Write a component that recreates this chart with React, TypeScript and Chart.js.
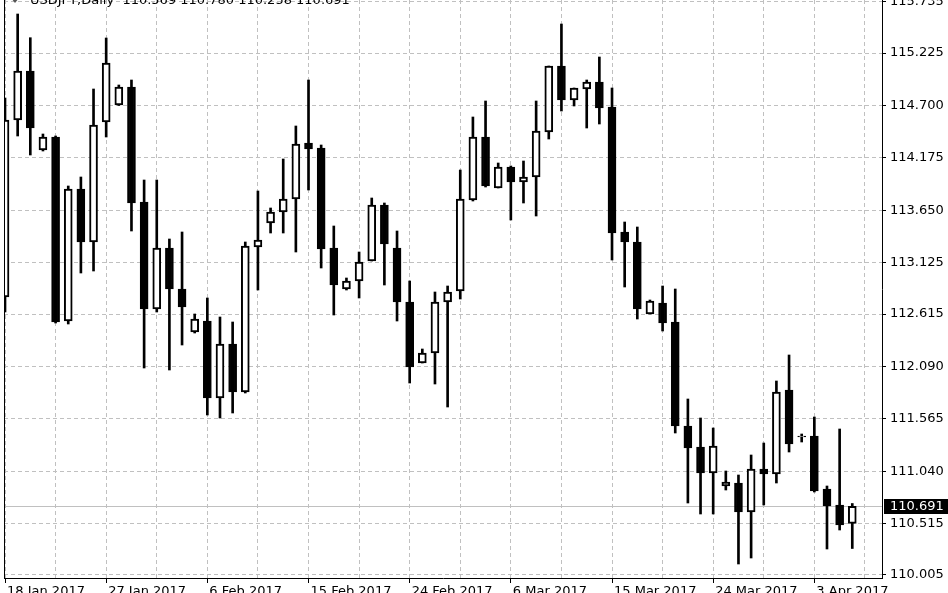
import React, { useEffect, useRef } from 'react';
import { Chart, registerables } from 'chart.js';

Chart.register(...registerables);

const headerText = 'USDJPY,Daily  110.569 110.780 110.258 110.691';

const dateLabels = [
  '18 Jan 2017', '27 Jan 2017', '6 Feb 2017', '15 Feb 2017', '24 Feb 2017',
  '6 Mar 2017', '15 Mar 2017', '24 Mar 2017', '3 Apr 2017',
];

const priceTicks = [
  110.005, 110.515, 111.04, 111.565, 112.09, 112.615, 113.125,
  113.65, 114.175, 114.7, 115.225, 115.735,
];

const opens = [
  112.785, 114.555, 115.045, 114.255, 114.385, 112.545, 113.865, 113.335, 114.535, 114.705,
  114.885, 113.735, 112.665, 113.275, 112.865, 112.435, 112.545, 111.775, 112.315, 111.835,
  113.285, 113.525, 113.635, 113.765, 114.325, 114.275, 113.275, 112.865, 112.945, 113.145,
  113.705, 113.275, 112.735, 112.125, 112.225, 112.735, 112.845, 113.755, 114.385, 113.875,
  114.085, 113.935, 113.985, 114.435, 115.095, 114.755, 114.865, 114.935, 114.685, 113.435,
  113.335, 112.615, 112.725, 112.535, 111.495, 111.285, 111.025, 110.895, 110.925, 110.635,
  111.065, 111.015, 111.855, 111.385, 111.395, 110.865, 110.705, 110.52,
];

const highs = [
  114.775, 115.615, 115.378, 114.415, 114.395, 113.895, 113.985, 114.865, 115.375, 114.905,
  114.955, 113.955, 113.955, 113.365, 113.435, 112.615, 112.775, 112.585, 112.535, 113.335,
  113.845, 113.675, 114.165, 114.495, 114.955, 114.305, 113.495, 112.975, 113.235, 113.775,
  113.725, 113.445, 112.945, 112.265, 112.835, 112.895, 114.055, 114.585, 114.745, 114.125,
  114.095, 114.145, 114.745, 115.095, 115.515, 114.875, 114.955, 115.185, 114.875, 113.535,
  113.485, 112.755, 112.895, 112.865, 111.765, 111.575, 111.475, 111.045, 111.005, 111.205,
  111.325, 111.945, 112.205, 111.415, 111.585, 110.895, 111.465, 110.72,
];

const lows = [
  112.635, 114.395, 114.205, 114.245, 112.525, 112.515, 113.025, 113.045, 114.385, 114.7,
  113.445, 112.075, 112.635, 112.055, 112.305, 112.425, 111.605, 111.575, 111.625, 111.825,
  112.855, 113.425, 113.425, 113.235, 113.855, 113.075, 112.605, 112.855, 112.775, 113.145,
  112.905, 112.545, 111.925, 112.125, 111.915, 111.685, 112.765, 113.745, 113.885, 113.875,
  113.555, 113.725, 113.595, 114.365, 114.645, 114.695, 114.475, 114.515, 113.155, 112.885,
  112.565, 112.615, 112.445, 111.425, 110.725, 110.615, 110.615, 110.855, 110.115, 110.175,
  110.705, 110.925, 111.235, 111.335, 110.835, 110.265, 110.455, 110.27,
];

const closes = [
  114.555, 115.045, 114.475, 114.385, 112.535, 113.865, 113.335, 114.505, 115.125, 114.885,
  113.725, 112.665, 113.275, 112.865, 112.685, 112.565, 111.775, 112.315, 111.835, 113.295,
  113.355, 113.635, 113.765, 114.315, 114.265, 113.265, 112.905, 112.945, 113.135, 113.705,
  113.315, 112.735, 112.085, 112.225, 112.735, 112.835, 113.765, 114.385, 113.895, 114.085,
  113.935, 113.985, 114.445, 115.095, 114.755, 114.875, 114.935, 114.675, 113.425, 113.335,
  112.665, 112.745, 112.525, 111.495, 111.275, 111.025, 111.295, 110.935, 110.635, 111.065,
  111.015, 111.835, 111.315, 111.395, 110.845, 110.695, 110.505, 110.691,
];

const FONT = 'DejaVu Sans';
const GRID = '#c0c0c0';

const overlayPlugin = {
  id: 'mt4overlay',
  beforeDatasetsDraw(chart: any) {
    const { ctx, chartArea, scales } = chart;
    const last = closes[closes.length - 1];
    const y = Math.round(scales.y.getPixelForValue(last)) + 0.5;
    ctx.save();
    ctx.strokeStyle = GRID;
    ctx.lineWidth = 1;
    ctx.beginPath();
    ctx.moveTo(chartArea.left, y);
    ctx.lineTo(chartArea.right, y);
    ctx.stroke();
    ctx.restore();
  },
  afterDraw(chart: any) {
    const { ctx, chartArea, scales, width } = chart;
    ctx.save();
    // left frame line
    ctx.strokeStyle = '#000';
    ctx.lineWidth = 1;
    ctx.beginPath();
    ctx.moveTo(chartArea.left + 0.5, chartArea.top);
    ctx.lineTo(chartArea.left + 0.5, chartArea.bottom);
    ctx.stroke();
    // price tag
    const last = closes[closes.length - 1];
    const y = scales.y.getPixelForValue(last);
    ctx.fillStyle = '#000';
    ctx.fillRect(chartArea.right + 2, Math.round(y) - 7, width - chartArea.right - 2, 15);
    ctx.fillStyle = '#fff';
    ctx.font = `13px "${FONT}"`;
    ctx.textAlign = 'left';
    ctx.textBaseline = 'middle';
    ctx.fillText(last.toFixed(3), chartArea.right + 8, Math.round(y) + 0.5);
    // header
    ctx.fillStyle = '#000';
    ctx.textBaseline = 'alphabetic';
    ctx.fillText(headerText, chartArea.left + 26, chartArea.top + 3.5);
    ctx.fillStyle = '#555';
    ctx.beginPath();
    ctx.moveTo(chartArea.left + 7, chartArea.top - 2);
    ctx.lineTo(chartArea.left + 15, chartArea.top - 2);
    ctx.lineTo(chartArea.left + 11, chartArea.top + 3);
    ctx.closePath();
    ctx.fill();
    ctx.restore();
  },
};

export default function App() {
  const ref = useRef<HTMLCanvasElement | null>(null);

  useEffect(() => {
    document.body.style.margin = '0';
    const canvas = ref.current;
    if (!canvas) return;
    const xTickValues: number[] = [];
    for (let v = 0; v <= 68; v += 4) xTickValues.push(v);

    const chart = new Chart(canvas, {
      type: 'bar',
      data: {
        datasets: [
          {
            label: 'body',
            data: opens.map((o, i) => ({ x: i, y: [o, closes[i]] })) as any,
            backgroundColor: opens.map((o, i) => (closes[i] >= o ? '#ffffff' : '#000000')),
            borderColor: '#000000',
            borderWidth: 2,
            borderSkipped: false,
            barThickness: 8,
            grouped: false,
            order: 0,
          } as any,
          {
            label: 'wick',
            data: highs.map((h, i) => ({ x: i, y: [lows[i], h] })) as any,
            backgroundColor: '#000000',
            borderWidth: 0,
            barThickness: 2,
            grouped: false,
            order: 1,
          } as any,
        ],
      },
      options: {
        animation: false,
        responsive: false,
        devicePixelRatio: 1,
        layout: { padding: { top: 20, left: 4, right: 0, bottom: 0 } },
        plugins: { legend: { display: false }, tooltip: { enabled: false } },
        scales: {
          x: {
            type: 'linear',
            position: 'bottom',
            min: -0.08,
            max: 69.35,
            offset: false,
            bounds: 'data',
            grid: {
              offset: false,
              color: GRID,
              lineWidth: 1,
              tickLength: 5,
              tickColor: (c: any) => (c.tick && c.tick.value % 8 === 0 ? '#000' : 'rgba(0,0,0,0)'),
            },
            border: { display: true, color: '#000', width: 1, dash: [4, 3] },
            ticks: {
              autoSkip: false,
              maxRotation: 0,
              minRotation: 0,
              align: 'start',
              labelOffset: 2,
              padding: 1,
              color: '#000',
              font: { family: FONT, size: 13 },
              callback: (value: any) => {
                const v = Number(value);
                return v % 8 === 0 ? dateLabels[v / 8] ?? '' : '';
              },
            },
            afterBuildTicks: (scale: any) => {
              scale.ticks = xTickValues.map((v) => ({ value: v }));
            },
            afterFit: (scale: any) => {
              scale.height = 30;
            },
          } as any,
          y: {
            type: 'linear',
            position: 'right',
            min: 109.975,
            max: 115.755,
            bounds: 'data',
            beginAtZero: false,
            grid: { color: GRID, lineWidth: 1, tickLength: 4, tickColor: '#000' },
            border: { display: true, color: '#000', width: 1, dash: [4, 3] },
            ticks: {
              autoSkip: false,
              padding: 4,
              color: '#000',
              font: { family: FONT, size: 13 },
              callback: (value: any) => Number(value).toFixed(3),
            },
            afterBuildTicks: (scale: any) => {
              scale.ticks = priceTicks.map((v) => ({ value: v }));
            },
            afterFit: (scale: any) => {
              scale.width = 66;
            },
          } as any,
        },
      } as any,
      plugins: [overlayPlugin],
    });
    return () => chart.destroy();
  }, []);

  return (
    <div style={{ position: 'relative', width: 948, height: 593, overflow: 'hidden', background: '#fff' }}>
      <canvas
        ref={ref}
        width={948}
        height={628}
        style={{ position: 'absolute', left: 0, top: -20, width: 948, height: 628 }}
      />
    </div>
  );
}
